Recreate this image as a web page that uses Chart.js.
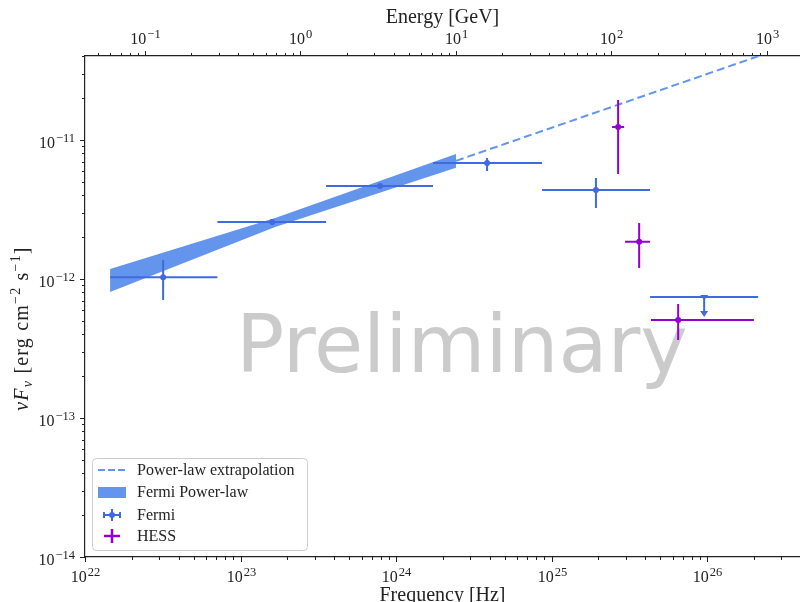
<!DOCTYPE html>
<html>
<head>
<meta charset="utf-8">
<script src="https://cdn.jsdelivr.net/npm/chart.js@4.4.1/dist/chart.umd.min.js"></script>
<style>
    html, body { margin: 0; padding: 0; background: #fff; overflow: hidden; }
    #wrap { width: 800px; height: 602px; position: relative; }
</style>
</head>
<body>
<div id="wrap"><canvas id="sed-chart"></canvas></div>
<script>
// Fermi flux points (Hz, erg cm^-2 s^-1)
const fermiNu = [3.18e22, 1.60e23, 7.89e23, 3.85e24, 1.93e25];
const fermiNuLo = [1.45e22, 7.10e22, 3.55e23, 1.73e24, 8.69e24];
const fermiNuHi = [7.10e22, 3.55e23, 1.73e24, 8.69e24, 4.30e25];
const fermiFlux = [1.03e-12, 2.57e-12, 4.67e-12, 6.84e-12, 4.36e-12];
const fermiFluxLo = [7.06e-13, 2.45e-12, 4.50e-12, 5.98e-12, 3.24e-12];
const fermiFluxHi = [1.37e-12, 2.70e-12, 4.85e-12, 7.43e-12, 5.33e-12];

// Fermi upper limit
const fermiUlNu = [9.58e25];
const fermiUlNuLo = [4.30e25];
const fermiUlNuHi = [2.13e26];
const fermiUlFlux = [7.43e-13];
const fermiUlArrow = [5.33e-13];

// HESS flux points
const hessNu = [2.68e25, 3.66e25, 6.52e25];
const hessNuLo = [2.45e25, 2.97e25, 4.36e25];
const hessNuHi = [2.93e25, 4.30e25, 2.00e26];
const hessFlux = [1.24e-11, 1.85e-12, 5.07e-13];
const hessFluxLo = [5.69e-12, 1.20e-12, 3.64e-13];
const hessFluxHi = [1.94e-11, 2.53e-12, 6.61e-13];

// Fermi power-law butterfly
const bandNu = [1.45e22, 1.67e23, 2.43e24];
const bandUpper = [1.18e-12, 2.75e-12, 7.93e-12];
const bandLower = [8.05e-13, 2.37e-12, 6.32e-12];

// extrapolation
const extNu = [2.43e24, 2.13e26];
const extFlux = [7.08e-12, 4.00e-11];

// axis ranges / tick labels
const X_MIN = 1e22;
const X_MAX = 3.96e26;
const Y_MIN = 1e-14;
const Y_MAX = 4.02e-11;
const GEV_PER_HZ = 4.1357e-24;
const freqDecades = [1e22, 1e23, 1e24, 1e25, 1e26];
const energyDecades = [1e-2, 1e-1, 1e0, 1e1, 1e2, 1e3];
const fluxDecades = [1e-14, 1e-13, 1e-12, 1e-11];

const SERIF = '"Liberation Serif", "DejaVu Serif", serif';
const FERMI_COLOR = "#4169e1";
const HESS_COLOR = "#9400d3";
const BAND_COLOR = "#6495ed";
const TEXT_COLOR = "#222";

function isDecade(v) {
    const l = Math.log10(v);
    return Math.abs(l - Math.round(l)) < 1e-6;
}

function exponentText(v) {
    return String(Math.round(Math.log10(v))).replace("-", "\u2212");
}

// decades plus 2..9 minors inside [min, max]
function logTicks(decades, min, max) {
    const out = [];
    decades.forEach(d => {
        for (let k = 1; k < 10; k++) {
            const v = d * k;
            if (v >= min * 0.9999 && v <= max * 1.0001) out.push(v);
        }
    });
    return out;
}

function points(xs, ys) {
    return xs.map((v, i) => ({ x: v, y: ys[i] }));
}

// watermark
const watermarkPlugin = {
    id: "watermark",
    beforeDatasetsDraw(chart) {
        const { ctx, chartArea } = chart;
        ctx.save();
        ctx.font = '80px "DejaVu Sans"';
        ctx.fillStyle = "#cbcbcb";
        ctx.textAlign = "center";
        ctx.textBaseline = "alphabetic";
        ctx.fillText("Preliminary",
            chartArea.left + (chartArea.right - chartArea.left) * 0.527,
            chartArea.top + (chartArea.bottom - chartArea.top) * 0.630);
        ctx.restore();
    }
};

// error bars
function drawBars(chart, nu, nuLo, nuHi, f, fLo, fHi, color) {
    const { ctx, scales } = chart;
    const xs = scales.x;
    const ys = scales.y;
    ctx.strokeStyle = color;
    ctx.lineWidth = 2;
    for (let i = 0; i < nu.length; i++) {
        const px = xs.getPixelForValue(nu[i]);
        const py = ys.getPixelForValue(f[i]);
        ctx.beginPath();
        ctx.moveTo(xs.getPixelForValue(nuLo[i]), py);
        ctx.lineTo(xs.getPixelForValue(nuHi[i]), py);
        ctx.moveTo(px, ys.getPixelForValue(fLo[i]));
        ctx.lineTo(px, ys.getPixelForValue(fHi[i]));
        ctx.stroke();
    }
}

const errorBarPlugin = {
    id: "errorBars",
    afterDatasetsDraw(chart) {
        const { ctx, chartArea, scales } = chart;
        ctx.save();
        ctx.beginPath();
        ctx.rect(chartArea.left, chartArea.top, chartArea.right - chartArea.left, chartArea.bottom - chartArea.top);
        ctx.clip();

        drawBars(chart, fermiNu, fermiNuLo, fermiNuHi, fermiFlux, fermiFluxLo, fermiFluxHi, FERMI_COLOR);
        drawBars(chart, hessNu, hessNuLo, hessNuHi, hessFlux, hessFluxLo, hessFluxHi, HESS_COLOR);

        // upper limit with arrow
        const xs = scales.x;
        const ys = scales.y;
        for (let i = 0; i < fermiUlNu.length; i++) {
            const px = xs.getPixelForValue(fermiUlNu[i]);
            const py = ys.getPixelForValue(fermiUlFlux[i]);
            const tip = ys.getPixelForValue(fermiUlArrow[i]);
            ctx.strokeStyle = FERMI_COLOR;
            ctx.lineWidth = 2;
            ctx.beginPath();
            ctx.moveTo(xs.getPixelForValue(fermiUlNuLo[i]), py);
            ctx.lineTo(xs.getPixelForValue(fermiUlNuHi[i]), py);
            ctx.moveTo(px, py);
            ctx.lineTo(px, tip - 5);
            ctx.stroke();
            ctx.fillStyle = FERMI_COLOR;
            ctx.beginPath();
            ctx.moveTo(px - 4, tip - 6);
            ctx.lineTo(px + 4, tip - 6);
            ctx.lineTo(px, tip);
            ctx.closePath();
            ctx.fill();
            // cap marker at the limit
            ctx.beginPath();
            ctx.moveTo(px - 4, py - 2);
            ctx.lineTo(px + 4, py - 2);
            ctx.lineTo(px, py + 3);
            ctx.closePath();
            ctx.fill();
        }
        ctx.restore();
    }
};

// "10" with raised exponent
function drawPow(ctx, v, x, baseline, align) {
    const base = "10";
    const exp = exponentText(v);
    ctx.font = "16px " + SERIF;
    const w1 = ctx.measureText(base).width;
    ctx.font = "12.5px " + SERIF;
    const w2 = ctx.measureText(exp).width + 1;
    let x0 = x - (w1 + w2) / 2;
    if (align === "right") x0 = x - (w1 + w2);
    ctx.font = "16px " + SERIF;
    ctx.fillText(base, x0, baseline);
    ctx.font = "12.5px " + SERIF;
    ctx.fillText(exp, x0 + w1 + 1, baseline - 6);
}

// outward tick marks and labels
const axisPlugin = {
    id: "axisTicks",
    afterDraw(chart) {
        const { ctx, chartArea, scales } = chart;
        ctx.save();
        ctx.strokeStyle = TEXT_COLOR;
        ctx.fillStyle = TEXT_COLOR;
        ctx.lineWidth = 1;
        ctx.textAlign = "left";
        ctx.textBaseline = "alphabetic";
        ["x", "x2"].forEach(id => {
            const s = scales[id];
            s.ticks.forEach(t => {
                const p = Math.round(s.getPixelForValue(t.value)) + 0.5;
                if (p < chartArea.left - 1 || p > chartArea.right) return;
                const major = isDecade(t.value);
                const len = major ? 5 : 3;
                ctx.beginPath();
                if (id === "x") {
                    ctx.moveTo(p, chartArea.bottom);
                    ctx.lineTo(p, chartArea.bottom + len);
                } else {
                    ctx.moveTo(p, chartArea.top);
                    ctx.lineTo(p, chartArea.top - len);
                }
                ctx.stroke();
                if (major) {
                    drawPow(ctx, t.value, p, id === "x" ? chartArea.bottom + 25 : chartArea.top - 12, "center");
                }
            });
        });
        scales.y.ticks.forEach(t => {
            const p = Math.round(scales.y.getPixelForValue(t.value)) + 0.5;
            const major = isDecade(t.value);
            const len = major ? 5 : 3;
            ctx.beginPath();
            ctx.moveTo(chartArea.left, p);
            ctx.lineTo(chartArea.left - len, p);
            ctx.stroke();
            if (major) drawPow(ctx, t.value, chartArea.left - 10, p + 7, "right");
        });
        ctx.restore();
    }
};

// y axis title with sub/superscripts
const yTitlePlugin = {
    id: "yTitle",
    afterDraw(chart) {
        const { ctx, chartArea } = chart;
        const parts = [
            { t: "\u03bdF", f: "italic 20px " + SERIF, dy: 0 },
            { t: "\u03bd", f: "italic 14px " + SERIF, dy: 4 },
            { t: " [erg cm", f: "20px " + SERIF, dy: 0 },
            { t: "\u22122", f: "14px " + SERIF, dy: -8 },
            { t: " s", f: "20px " + SERIF, dy: 0 },
            { t: "\u22121", f: "14px " + SERIF, dy: -8 },
            { t: "]", f: "20px " + SERIF, dy: 0 }
        ];
        ctx.save();
        ctx.letterSpacing = "1.2px";
        let total = 0;
        parts.forEach(p => {
            ctx.font = p.f;
            p.w = ctx.measureText(p.t).width;
            total += p.w;
        });
        ctx.translate(28, (chartArea.top + chartArea.bottom) / 2 + 22);
        ctx.rotate(-Math.PI / 2);
        ctx.fillStyle = TEXT_COLOR;
        ctx.textBaseline = "alphabetic";
        let x = -total / 2;
        parts.forEach(p => {
            ctx.font = p.f;
            ctx.fillText(p.t, x, p.dy);
            x += p.w;
        });
        ctx.restore();
    }
};

// legend box in lower left
const legendBoxPlugin = {
    id: "legendBox",
    afterDraw(chart) {
        const { ctx, chartArea } = chart;
        const bx = chartArea.left + 7;
        const by = chartArea.bottom - 99;
        const bw = 215;
        const bh = 92;
        ctx.save();
        ctx.fillStyle = "rgba(255,255,255,0.8)";
        ctx.strokeStyle = "#cccccc";
        ctx.lineWidth = 1;
        ctx.beginPath();
        ctx.roundRect(bx + 0.5, by + 0.5, bw, bh, 4);
        ctx.fill();
        ctx.stroke();

        const hx0 = bx + 6;
        const hx1 = bx + 34;
        const hc = (hx0 + hx1) / 2;
        const rows = [by + 12, by + 34, by + 57, by + 78];

        // dashed line
        ctx.strokeStyle = BAND_COLOR;
        ctx.lineWidth = 2;
        ctx.setLineDash([7, 3]);
        ctx.beginPath();
        ctx.moveTo(hx0, rows[0]);
        ctx.lineTo(hx1, rows[0]);
        ctx.stroke();
        ctx.setLineDash([]);

        // band patch
        ctx.fillStyle = BAND_COLOR;
        ctx.fillRect(hx0, rows[1] - 5, hx1 - hx0, 11);

        // Fermi errorbar glyph
        ctx.strokeStyle = FERMI_COLOR;
        ctx.beginPath();
        ctx.moveTo(hc - 8, rows[2]);
        ctx.lineTo(hc + 8, rows[2]);
        ctx.moveTo(hc - 8, rows[2] - 3);
        ctx.lineTo(hc - 8, rows[2] + 3);
        ctx.moveTo(hc + 8, rows[2] - 3);
        ctx.lineTo(hc + 8, rows[2] + 3);
        ctx.moveTo(hc, rows[2] - 6);
        ctx.lineTo(hc, rows[2] + 6);
        ctx.stroke();
        ctx.fillStyle = FERMI_COLOR;
        ctx.beginPath();
        ctx.arc(hc, rows[2], 3, 0, Math.PI * 2);
        ctx.fill();

        // HESS errorbar glyph
        ctx.strokeStyle = HESS_COLOR;
        ctx.lineWidth = 2.5;
        ctx.beginPath();
        ctx.moveTo(hc - 8, rows[3]);
        ctx.lineTo(hc + 8, rows[3]);
        ctx.moveTo(hc, rows[3] - 7);
        ctx.lineTo(hc, rows[3] + 7);
        ctx.stroke();

        const labels = ["Power-law extrapolation", "Fermi Power-law", "Fermi", "HESS"];
        ctx.fillStyle = TEXT_COLOR;
        ctx.font = "16px " + SERIF;
        ctx.textBaseline = "middle";
        labels.forEach((l, i) => ctx.fillText(l, bx + 45, rows[i] + 1));
        ctx.restore();
    }
};

const titleFont = { family: SERIF, size: 20 };

const chart = new Chart(document.getElementById("sed-chart"), {
    type: "line",
    data: {
        datasets: [
            {
                label: "Fermi",
                data: points(fermiNu.concat(fermiUlNu), fermiFlux.concat(fermiUlFlux)),
                showLine: false,
                pointRadius: [3, 3, 3, 3, 3, 0],
                pointBackgroundColor: FERMI_COLOR,
                pointBorderWidth: 0
            },
            {
                label: "HESS",
                data: points(hessNu, hessFlux),
                showLine: false,
                pointRadius: 3,
                pointBackgroundColor: HESS_COLOR,
                pointBorderWidth: 0
            },
            {
                label: "Power-law extrapolation",
                data: points(extNu, extFlux),
                borderColor: BAND_COLOR,
                borderWidth: 2,
                borderDash: [8, 4],
                pointRadius: 0,
                fill: false
            },
            {
                label: "Fermi Power-law",
                data: points(bandNu, bandUpper),
                borderWidth: 0,
                borderColor: BAND_COLOR,
                backgroundColor: BAND_COLOR,
                pointRadius: 0,
                fill: "+1"
            },
            {
                label: "band lower",
                data: points(bandNu, bandLower),
                borderWidth: 0,
                borderColor: BAND_COLOR,
                pointRadius: 0,
                fill: false
            }
        ]
    },
    options: {
        responsive: true,
        maintainAspectRatio: false,
        animation: false,
        layout: { padding: 0, autoPadding: false },
        scales: {
            x: {
                type: "logarithmic",
                position: "bottom",
                min: X_MIN,
                max: X_MAX,
                afterBuildTicks: axis => { axis.ticks = logTicks(freqDecades, X_MIN, X_MAX).map(v => ({ value: v })); },
                afterFit: axis => { axis.height = 45; },
                grid: { display: false, drawTicks: false },
                border: { display: true, color: TEXT_COLOR, width: 1.2 },
                ticks: { display: false },
                title: { display: true, text: "Frequency [Hz]", color: TEXT_COLOR, font: titleFont, padding: { top: 0, bottom: -6 } }
            },
            x2: {
                type: "logarithmic",
                position: "top",
                min: X_MIN * GEV_PER_HZ,
                max: X_MAX * GEV_PER_HZ,
                afterBuildTicks: axis => { axis.ticks = logTicks(energyDecades, X_MIN * GEV_PER_HZ, X_MAX * GEV_PER_HZ).map(v => ({ value: v })); },
                afterFit: axis => { axis.height = 56; },
                grid: { display: false, drawTicks: false },
                border: { display: true, color: TEXT_COLOR, width: 1.2 },
                ticks: { display: false },
                title: { display: true, text: "Energy [GeV]", color: TEXT_COLOR, font: titleFont, padding: { top: 6, bottom: 0 } }
            },
            y: {
                type: "logarithmic",
                position: "left",
                min: Y_MIN,
                max: Y_MAX,
                afterBuildTicks: axis => { axis.ticks = logTicks(fluxDecades, Y_MIN, Y_MAX).map(v => ({ value: v })); },
                afterFit: axis => { axis.width = 85; },
                grid: { display: false, drawTicks: false },
                border: { display: true, color: TEXT_COLOR, width: 1.2 },
                ticks: { display: false }
            }
        },
        plugins: {
            legend: { display: false },
            tooltip: { enabled: false }
        }
    },
    plugins: [
        watermarkPlugin,
        errorBarPlugin,
        axisPlugin,
        yTitlePlugin,
        legendBoxPlugin
    ]
});
</script>
</body>
</html>
